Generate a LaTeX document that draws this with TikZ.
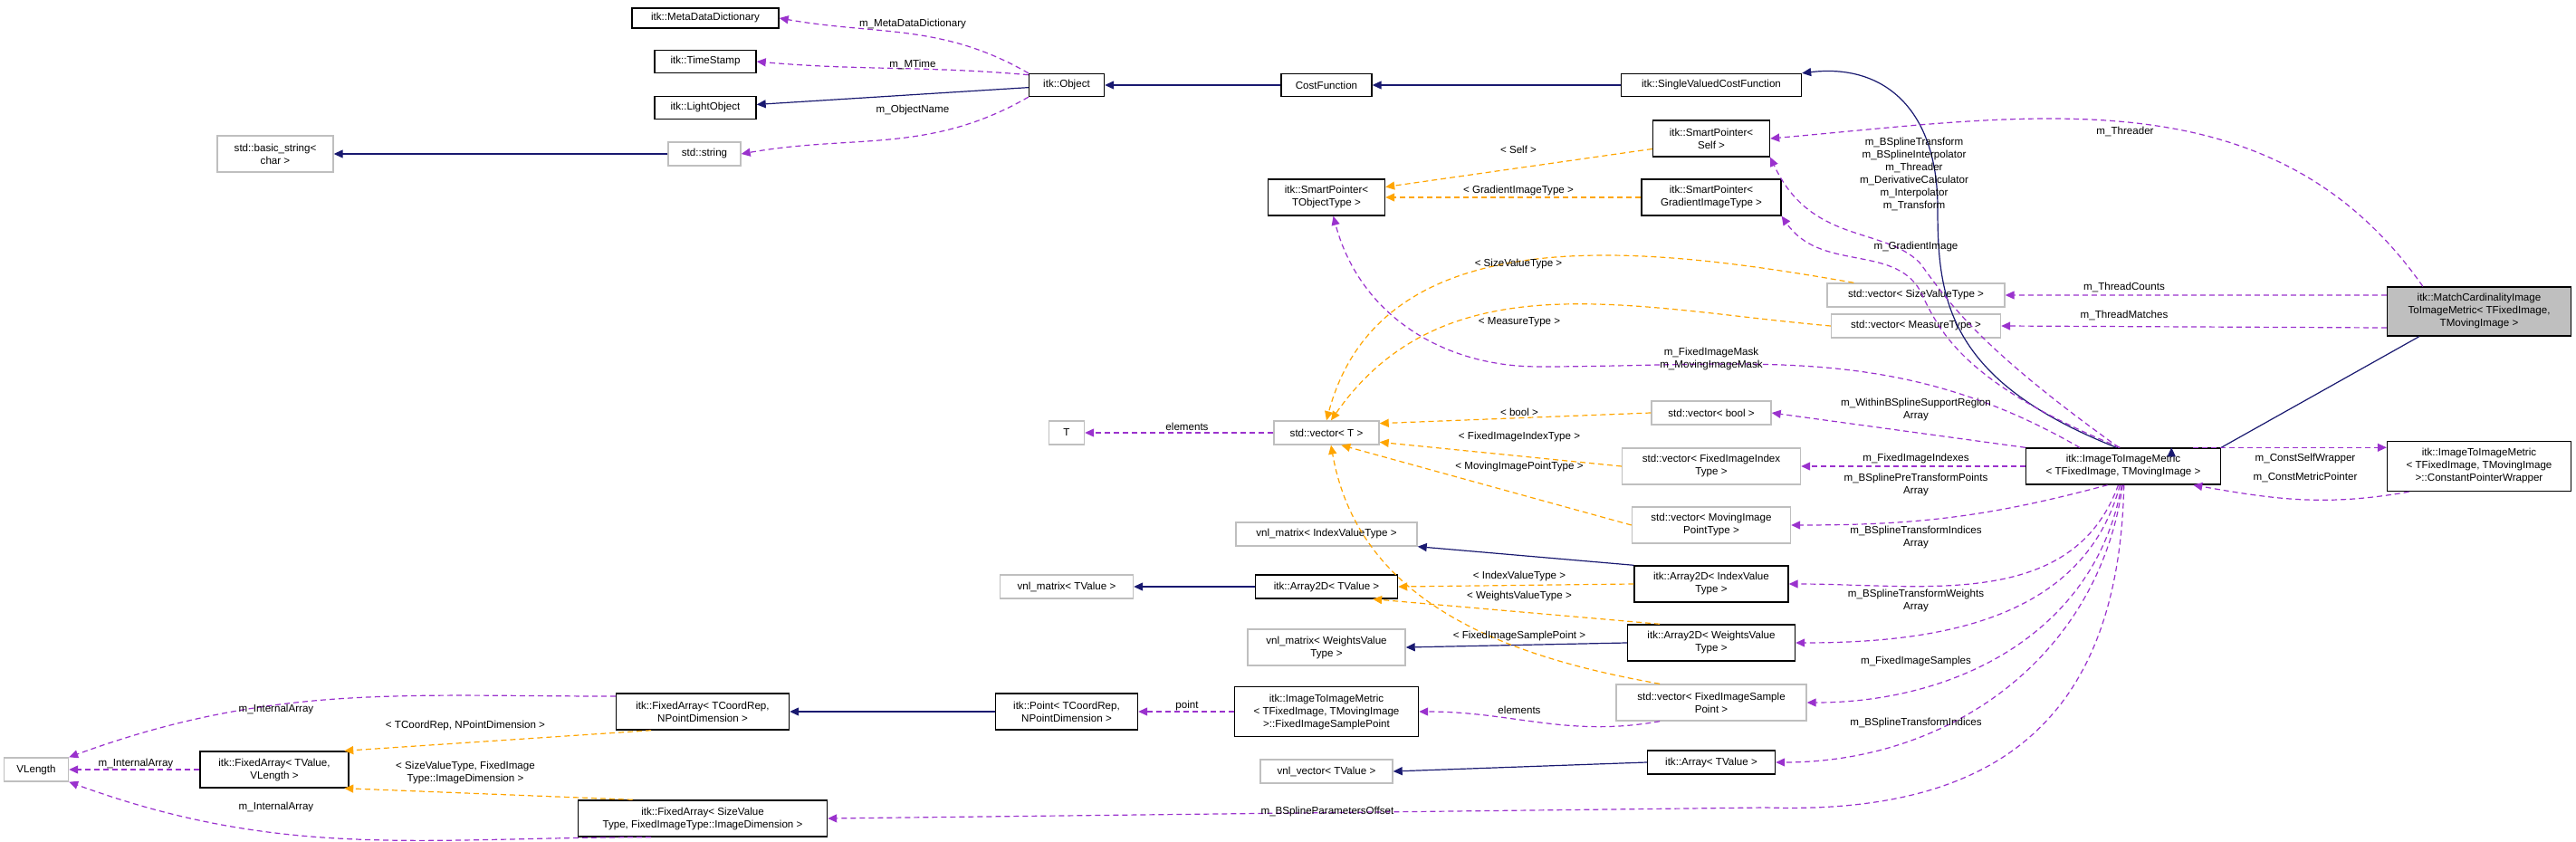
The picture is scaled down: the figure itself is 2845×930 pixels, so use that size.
\documentclass[tikz,border=0pt]{standalone}
\usepackage{fontspec}
\setmainfont{Liberation Sans}
\usetikzlibrary{arrows.meta,positioning}
\definecolor{inhcol}{HTML}{191970}
\definecolor{usecol}{HTML}{9A32CD}
\definecolor{tmplcol}{HTML}{FFA500}
\definecolor{greyline}{HTML}{BFBFBF}
\tikzset{
    box/.style 2 args={draw=black,line width=0.7pt,fill=white,align=center,inner sep=1pt,
        minimum width=0.5*#1,minimum height=0.5*#2,font=\fontsize{5.8}{7}\selectfont},
    greybox/.style 2 args={box={#1}{#2},draw=greyline},
    lbl/.style={align=center,inner sep=0pt,font=\fontsize{5.8}{7}\selectfont},
    inh/.style={draw=inhcol,line width=0.6pt,-{Triangle[length=5pt,width=4.5pt]}},
    use/.style={draw=usecol,line width=0.6pt,dash pattern=on 3pt off 2pt,-{Triangle[length=5pt,width=4.5pt,fill=usecol]}},
    tmpl/.style={draw=tmplcol,line width=0.6pt,dash pattern=on 3pt off 2pt,-{Triangle[length=5pt,width=4.5pt,fill=tmplcol]}},
}
\begin{document}
\begin{tikzpicture}[x=0.5pt,y=-0.5pt]
    \useasboundingbox (0,0) rectangle (2845,930);
    % classes
    \node[box={162}{22}] (mdd) at (779,20) {itk::MetaDataDictionary};
    \node[box={112}{25}] (ts) at (779,68) {itk::TimeStamp};
    \node[box={112}{25}] (lo) at (779,119) {itk::LightObject};
    \node[greybox={128}{40}] (bstr) at (304,170) {std::basic\_string<\\char >};
    \node[greybox={80}{26}] (str) at (778,170) {std::string};
    \node[box={83}{25}] (obj) at (1178,94) {itk::Object};
    \node[box={100}{25}] (cf) at (1465,94) {CostFunction};
    \node[box={199}{25}] (svcf) at (1890,94) {itk::SingleValuedCostFunction};
    \node[box={129}{40}] (spself) at (1890,153) {itk::SmartPointer<\\Self >};
    \node[box={129}{40}] (sptobj) at (1465,218) {itk::SmartPointer<\\TObjectType >};
    \node[box={154}{40}] (spgrad) at (1890,218) {itk::SmartPointer<\\GradientImageType >};
    \node[greybox={196}{26}] (vsize) at (2116,326) {std::vector< SizeValueType >};
    \node[greybox={187}{26}] (vmeas) at (2116,360) {std::vector< MeasureType >};
    \node[box={203}{54},fill=greyline] (mcim) at (2738,344) {itk::MatchCardinalityImage\\ToImageMetric< TFixedImage,\\TMovingImage >};
    \node[box={215}{40}] (iim) at (2345,515) {itk::ImageToImageMetric\\< TFixedImage, TMovingImage >};
    \node[box={203}{55}] (cpw) at (2738,515) {itk::ImageToImageMetric\\< TFixedImage, TMovingImage\\>::ConstantPointerWrapper};
    \node[greybox={39}{26}] (tt) at (1178,478) {T};
    \node[greybox={116}{26}] (vt) at (1465,478) {std::vector< T >};
    \node[greybox={132}{26}] (vbool) at (1890,456) {std::vector< bool >};
    \node[greybox={197}{40}] (vfii) at (1890,515) {std::vector< FixedImageIndex\\Type >};
    \node[greybox={175}{40}] (vmip) at (1890,580) {std::vector< MovingImage\\PointType >};
    \node[greybox={200}{26}] (vmiv) at (1465,590) {vnl\_matrix< IndexValueType >};
    \node[greybox={147}{26}] (vmt) at (1178,648) {vnl\_matrix< TValue >};
    \node[box={157}{26}] (a2t) at (1465,648) {itk::Array2D< TValue >};
    \node[box={170}{40}] (a2iv) at (1890,645) {itk::Array2D< IndexValue\\Type >};
    \node[greybox={174}{40}] (vmwv) at (1465,715) {vnl\_matrix< WeightsValue\\Type >};
    \node[box={185}{40}] (a2wv) at (1890,710) {itk::Array2D< WeightsValue\\Type >};
    \node[greybox={210}{40}] (vfisp) at (1890,776) {std::vector< FixedImageSample\\Point >};
    \node[box={157}{40}] (pt) at (1178,786) {itk::Point< TCoordRep,\\NPointDimension >};
    \node[box={203}{55}] (fisp) at (1465,786) {itk::ImageToImageMetric\\< TFixedImage, TMovingImage\\>::FixedImageSamplePoint};
    \node[greybox={146}{26}] (vnlv) at (1465,852) {vnl\_vector< TValue >};
    \node[box={141}{26}] (arr) at (1890,842) {itk::Array< TValue >};
    \node[greybox={71}{26}] (vlen) at (40,850) {VLength};
    \node[box={164}{40}] (fatv) at (303,850) {itk::FixedArray< TValue,\\VLength >};
    \node[box={191}{40}] (fatc) at (776,786) {itk::FixedArray< TCoordRep,\\NPointDimension >};
    \node[box={275}{40}] (fasv) at (776,904) {itk::FixedArray< SizeValue\\Type, FixedImageType::ImageDimension >};
    % inheritance
    \draw[inh] (obj) -- (lo);
    \draw[inh] (cf) -- (obj);
    \draw[inh] (svcf) -- (cf);
    \draw[inh] (str) -- (bstr);
    \draw[inh] (iim.110) .. controls (2150,420) and (2140,330) .. (2140,230) .. controls (2140,120) and (2080,70) .. (svcf.north east);
    \draw[inh] (mcim.south west) ++(36,0) -- (iim.north east) ++(-55,0);
    \draw[inh] (a2t) -- (vmt);
    \draw[inh] (a2iv.north west) -- (vmiv.south east);
    \draw[inh] (a2wv.west) -- (vmwv.east);
    \draw[inh] (arr.west) -- (vnlv.east);
    \draw[inh] (pt) -- (fatc);
    % usage
    \draw[use] (obj.north west) to[out=150,in=-10] (mdd.east);
    \draw[use] (obj.165) to[out=175,in=-5] (ts.east);
    \draw[use] (obj.south west) to[out=-150,in=10] (str.east);
    \draw[use] (mcim.north west) ++(40,0) to[out=125,in=5] (spself.east);
    \draw[use] (iim.103) .. controls (2180,380) and (2150,330) .. (2120,290) .. controls (2080,250) and (2000,270) .. (spself.south east);
    \draw[use] (iim.100) .. controls (2160,420) and (2140,360) .. (2120,320) .. controls (2090,270) and (2010,300) .. (spgrad.south east);
    \draw[use] (iim.north west) ++(60,0) to[out=150,in=0] (1700,405) to[out=180,in=-75] (sptobj.-70);
    \draw[use] (mcim.170) -- (vsize.east);
    \draw[use] (mcim.190) -- (vmeas.east);
    \draw[use] (iim.north west) -- (vbool.east);
    \draw[use] (iim.west) -- (vfii.east);
    \draw[use] (iim.-130) to[out=-165,in=0] (vmip.east);
    \draw[use] (iim.-105) to[out=-110,in=0] (a2iv.east);
    \draw[use] (iim.-100) to[out=-105,in=0] (a2wv.east);
    \draw[use] (iim.-95) to[out=-100,in=0] (vfisp.east);
    \draw[use] (iim.-92) to[out=-98,in=0] (arr.east);
    \draw[use] (iim.-88) .. controls (2340,800) and (2200,900) .. (1950,892) -- (fasv.east);
    \draw[use] (iim.15) -- (cpw.west |- iim.15);
    \draw[use] (cpw.-160) to[out=190,in=-10] (iim.-15);
    \draw[use] (vt) -- (tt);
    \draw[use] (vfisp.-160) to[out=190,in=0] (fisp.east);
    \draw[use] (fisp) -- (pt);
    \draw[use] (fatc.170) to[out=180,in=20] (vlen.north east);
    \draw[use] (fatv) -- (vlen);
    \draw[use] (fasv.-160) to[out=180,in=-20] (vlen.south east);
    % templates
    \draw[tmpl] (spself.-170) -- (sptobj.10);
    \draw[tmpl] (spgrad.west) -- (sptobj.east);
    \draw[tmpl] (vsize.north west) ++(30,0) to[out=170,in=75] (vt.north);
    \draw[tmpl] (vmeas.west) to[out=175,in=55] (vt.70);
    \draw[tmpl] (vbool.west) -- (vt.10);
    \draw[tmpl] (vfii.west) -- (vt.-10);
    \draw[tmpl] (vmip.west) -- (vt.-40);
    \draw[tmpl] (vfisp.160) to[out=170,in=-80] (vt.-70);
    \draw[tmpl] (a2iv.west) -- (a2t.east);
    \draw[tmpl] (a2wv.160) -- (a2t.-15);
    \draw[tmpl] (fatc.200) -- (fatv.15);
    \draw[tmpl] (fasv.165) -- (fatv.-15);
    % labels
    \node[lbl] (l1) at (1008,27) {m\_MetaDataDictionary};
    \node[lbl] (l2) at (1008,71) {m\_MTime};
    \node[lbl] (l3) at (1008,122) {m\_ObjectName};
    \node[lbl] (l4) at (2347,145) {m\_Threader};
    \node[lbl] (l5) at (2114,192) {m\_BSplineTransform\\m\_BSplineInterpolator\\m\_Threader\\m\_DerivativeCalculator\\m\_Interpolator\\m\_Transform};
    \node[lbl] (l6) at (2116,273) {m\_GradientImage};
    \node[lbl] (l7) at (1890,397) {m\_FixedImageMask\\m\_MovingImageMask};
    \node[lbl] (l8) at (2346,317) {m\_ThreadCounts};
    \node[lbl] (l9) at (2346,348) {m\_ThreadMatches};
    \node[lbl] (l10) at (2116,453) {m\_WithinBSplineSupportRegion\\Array};
    \node[lbl] (l11) at (2116,507) {m\_FixedImageIndexes};
    \node[lbl] (l12) at (2116,536) {m\_BSplinePreTransformPoints\\Array};
    \node[lbl] (l13) at (2116,594) {m\_BSplineTransformIndices\\Array};
    \node[lbl] (l14) at (2116,664) {m\_BSplineTransformWeights\\Array};
    \node[lbl] (l15) at (2116,731) {m\_FixedImageSamples};
    \node[lbl] (l16) at (2116,798) {m\_BSplineTransformIndices};
    \node[lbl] (l17) at (1466,896) {m\_BSplineParametersOffset};
    \node[lbl] (l18) at (2546,507) {m\_ConstSelfWrapper};
    \node[lbl] (l19) at (2546,527) {m\_ConstMetricPointer};
    \node[lbl] (l20) at (1311,471) {elements};
    \node[lbl] (l21) at (1678,784) {elements};
    \node[lbl] (l22) at (1311,779) {point};
    \node[lbl] (l23) at (305,783) {m\_InternalArray};
    \node[lbl] (l24) at (150,843) {m\_InternalArray};
    \node[lbl] (l25) at (305,891) {m\_InternalArray};
    \node[lbl] (l26) at (1677,165) {< Self >};
    \node[lbl] (l27) at (1677,211) {< GradientImageType >};
    \node[lbl] (l28) at (1677,292) {< SizeValueType >};
    \node[lbl] (l29) at (1678,356) {< MeasureType >};
    \node[lbl] (l30) at (1678,455) {< bool >};
    \node[lbl] (l31) at (1678,483) {< FixedImageIndexType >};
    \node[lbl] (l32) at (1678,516) {< MovingImagePointType >};
    \node[lbl] (l33) at (1678,637) {< IndexValueType >};
    \node[lbl] (l34) at (1678,659) {< WeightsValueType >};
    \node[lbl] (l35) at (1678,703) {< FixedImageSamplePoint >};
    \node[lbl] (l36) at (514,801) {< TCoordRep, NPointDimension >};
    \node[lbl] (l37) at (514,853) {< SizeValueType, FixedImage\\Type::ImageDimension >};
\end{tikzpicture}
\end{document}
